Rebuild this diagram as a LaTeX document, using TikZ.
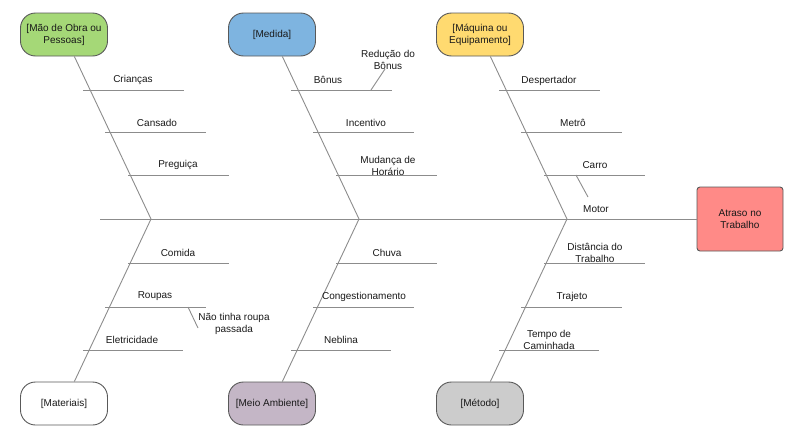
\documentclass[tikz,border=0pt]{standalone}
\usepackage{fontspec}
\setmainfont{Liberation Sans}
\usepackage{tikz}
\definecolor{obra}{HTML}{A5D877}
\definecolor{medida}{HTML}{7EB4E0}
\definecolor{maquina}{HTML}{FFDA70}
\definecolor{meio}{HTML}{C4B6C6}
\definecolor{metodo}{HTML}{CCCCCC}
\definecolor{efeito}{HTML}{FF8A87}
\definecolor{osso}{HTML}{8C8C8C}
\tikzset{
x=1pt, y=-1pt, % picture units follow the pixels of the sketch
font=\fontsize{10}{12}\selectfont, % labels in a small sans
causa/.style={draw=black!65, line width=0.9pt, rounded corners=15pt, minimum width=87pt, minimum height=43pt, align=center, text=black!90}, % the six category boxes
efeito/.style={draw=black!65, line width=0.9pt, fill=efeito, rounded corners=3pt, minimum width=86pt, minimum height=64pt, align=center, text=black!90}, % the head of the fish
osso/.style={draw=osso, line width=0.9pt}, % every bone line
rotulo/.style={inner sep=1pt, align=center, text=black!90, yshift=-1.5pt}, % text above a bone
}

\begin{document}
\begin{tikzpicture}
            \useasboundingbox (0,0) rectangle (800,442);

            % head and spine
            \node[efeito] (f) at (740,219) {Atraso no\\Trabalho};
            \coordinate (cauda) at (100,219);
            \coordinate (jA) at (151,219);
            \coordinate (jB) at (359,219);
            \coordinate (jC) at (567,219);
            \draw[osso] (cauda) -- (f);

            % category boxes
            \node[causa, fill=obra] (mao) at (64,34.5) {[Mão de Obra ou\\Pessoas]};
            \node[causa, fill=medida] (med) at (272,34.5) {[Medida]};
            \node[causa, fill=maquina] (maq) at (480,34.5) {[Máquina ou\\Equipamento]};
            \node[causa, fill=white] (mat) at (64,403.5) {[Materiais]};
            \node[causa, fill=meio] (amb) at (272,403.5) {[Meio Ambiente]};
            \node[causa, fill=metodo] (met) at (480,403.5) {[Método]};

            \draw[osso] (mao) -- (jA);
            \draw[osso] (med) -- (jB);
            \draw[osso] (maq) -- (jC);
            \draw[osso] (mat) -- (jA);
            \draw[osso] (amb) -- (jB);
            \draw[osso] (met) -- (jC);

            % Mão de Obra ou Pessoas
            \coordinate (a1) at (83,90);   \coordinate (a1e) at (184,90);
            \coordinate (a2) at (105,132); \coordinate (a2e) at (206,132);
            \coordinate (a3) at (128,175); \coordinate (a3e) at (229,175);
            \draw[osso] (a1) -- (a1e);
            \draw[osso] (a2) -- (a2e);
            \draw[osso] (a3) -- (a3e);
            \node[rotulo] (criancas) at (133,78) {Crianças};
            \node[rotulo] (cansado) at (157,121) {Cansado};
            \node[rotulo] (preguica) at (178,163) {Preguiça};

            % Medida
            \coordinate (b1) at (291,90);  \coordinate (b1e) at (392,90);
            \coordinate (b2) at (313,132); \coordinate (b2e) at (414,132);
            \coordinate (b3) at (336,175); \coordinate (b3e) at (437,175);
            \draw[osso] (b1) -- (b1e);
            \draw[osso] (b2) -- (b2e);
            \draw[osso] (b3) -- (b3e);
            \node[rotulo] (bonus) at (328,78) {Bônus};
            \node[rotulo] (reducao) at (388,58) {Redução do\\Bônus};
            \coordinate (rb) at (371,90);
            \coordinate (rbe) at (385,69);
            \draw[osso] (rb) -- (rbe);
            \node[rotulo] (incentivo) at (366,121) {Incentivo};
            \node[rotulo] (mudanca) at (388,164) {Mudança de\\Horário};

            % Máquina ou Equipamento
            \coordinate (c1) at (499,90);  \coordinate (c1e) at (600,90);
            \coordinate (c2) at (521,132); \coordinate (c2e) at (622,132);
            \coordinate (c3) at (544,175); \coordinate (c3e) at (645,175);
            \draw[osso] (c1) -- (c1e);
            \draw[osso] (c2) -- (c2e);
            \draw[osso] (c3) -- (c3e);
            \node[rotulo] (despertador) at (549,79) {Despertador};
            \node[rotulo] (metro) at (573,121) {Metrô};
            \node[rotulo] (carro) at (595,164) {Carro};
            \node[rotulo] (motor) at (596,208) {Motor};
            \coordinate (cm) at (576,175);
            \coordinate (cme) at (588,197);
            \draw[osso] (cm) -- (cme);

            % Materiais
            \coordinate (d1) at (128,263); \coordinate (d1e) at (229,263);
            \coordinate (d2) at (105,307); \coordinate (d2e) at (206,307);
            \coordinate (d3) at (83,350);  \coordinate (d3e) at (183,350);
            \draw[osso] (d1) -- (d1e);
            \draw[osso] (d2) -- (d2e);
            \draw[osso] (d3) -- (d3e);
            \node[rotulo] (comida) at (178,251) {Comida};
            \node[rotulo] (roupas) at (155,295) {Roupas};
            \node[rotulo] (passada) at (234,322) {Não tinha roupa\\passada};
            \coordinate (rp) at (188,307);
            \coordinate (rpe) at (198,328);
            \draw[osso] (rp) -- (rpe);
            \node[rotulo] (eletricidade) at (132,338) {Eletricidade};

            % Meio Ambiente
            \coordinate (e1) at (336,263); \coordinate (e1e) at (437,263);
            \coordinate (e2) at (313,307); \coordinate (e2e) at (414,307);
            \coordinate (e3) at (291,350); \coordinate (e3e) at (391,350);
            \draw[osso] (e1) -- (e1e);
            \draw[osso] (e2) -- (e2e);
            \draw[osso] (e3) -- (e3e);
            \node[rotulo] (chuva) at (387,251) {Chuva};
            \node[rotulo] (congest) at (364,295) {Congestionamento};
            \node[rotulo] (neblina) at (341,338) {Neblina};

            % Método
            \coordinate (g1) at (544,263); \coordinate (g1e) at (645,263);
            \coordinate (g2) at (521,307); \coordinate (g2e) at (622,307);
            \coordinate (g3) at (499,350); \coordinate (g3e) at (599,350);
            \draw[osso] (g1) -- (g1e);
            \draw[osso] (g2) -- (g2e);
            \draw[osso] (g3) -- (g3e);
            \node[rotulo] (distancia) at (595,251) {Distância do\\Trabalho};
            \node[rotulo] (trajeto) at (572,295) {Trajeto};
            \node[rotulo] (caminhada) at (549,338) {Tempo de\\Caminhada};

        \end{tikzpicture}
\end{document}
